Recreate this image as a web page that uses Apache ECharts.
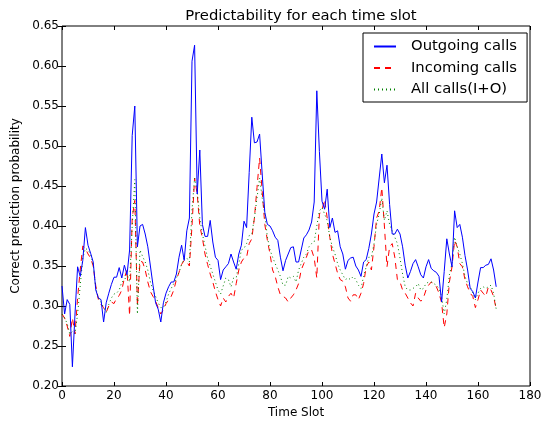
<!DOCTYPE html>
<html>
<head>
<meta charset="utf-8">
<script src="https://cdn.jsdelivr.net/npm/echarts@6/dist/echarts.min.js"></script>
<style>html,body{margin:0;padding:0;background:#fff}#c{width:548px;height:424px}</style>
</head>
<body>
<div id="c"></div>
<script>
const seriesNames = ['Outgoing calls', 'Incoming calls', 'All calls(I+O)'];
const outgoing = [0.325,0.29,0.308,0.302,0.224,0.29,0.349,0.337,0.357,0.398,
0.376,0.366,0.355,0.32,0.31,0.308,0.28,0.304,0.316,0.327,
0.336,0.336,0.348,0.335,0.351,0.339,0.37,0.513,0.55,0.374,
0.40,0.402,0.39,0.374,0.35,0.326,0.304,0.296,0.28,0.304,
0.316,0.324,0.33,0.33,0.34,0.361,0.376,0.357,0.394,0.41,
0.606,0.626,0.44,0.495,0.402,0.387,0.387,0.407,0.38,0.361,
0.357,0.333,0.345,0.349,0.353,0.365,0.355,0.346,0.365,0.376,
0.406,0.398,0.467,0.536,0.504,0.505,0.515,0.465,0.417,0.402,
0.40,0.394,0.386,0.382,0.361,0.344,0.357,0.365,0.373,0.374,
0.355,0.355,0.37,0.385,0.389,0.395,0.405,0.43,0.569,0.493,
0.431,0.421,0.446,0.398,0.41,0.392,0.394,0.374,0.365,0.346,
0.357,0.36,0.361,0.35,0.345,0.337,0.355,0.358,0.372,0.39,
0.415,0.43,0.46,0.49,0.454,0.476,0.427,0.39,0.39,0.396,
0.39,0.374,0.351,0.335,0.343,0.353,0.358,0.349,0.339,0.335,
0.349,0.358,0.347,0.344,0.342,0.337,0.305,0.343,0.384,0.365,
0.349,0.419,0.398,0.402,0.386,0.363,0.345,0.322,0.318,0.31,
0.33,0.348,0.348,0.351,0.352,0.359,0.345,0.324];
const incoming = [0.29,0.285,0.275,0.262,0.285,0.265,0.31,0.345,0.375,0.372,
0.365,0.36,0.35,0.325,0.308,0.302,0.298,0.292,0.30,0.305,
0.303,0.31,0.313,0.32,0.335,0.345,0.288,0.41,0.432,0.30,
0.356,0.355,0.345,0.33,0.318,0.312,0.306,0.298,0.29,0.295,
0.303,0.308,0.312,0.32,0.333,0.342,0.352,0.357,0.355,0.35,
0.40,0.46,0.44,0.40,0.385,0.365,0.352,0.34,0.33,0.318,
0.308,0.30,0.31,0.305,0.312,0.316,0.31,0.328,0.345,0.355,
0.36,0.361,0.378,0.384,0.41,0.448,0.485,0.443,0.402,0.382,
0.365,0.345,0.337,0.324,0.314,0.312,0.31,0.305,0.31,0.314,
0.32,0.328,0.345,0.353,0.361,0.37,0.37,0.36,0.335,0.415,
0.42,0.433,0.41,0.386,0.365,0.353,0.341,0.333,0.331,0.324,
0.31,0.306,0.314,0.314,0.308,0.316,0.328,0.349,0.355,0.345,
0.374,0.41,0.419,0.448,0.40,0.349,0.374,0.378,0.361,0.333,
0.33,0.32,0.316,0.31,0.304,0.30,0.316,0.31,0.306,0.31,
0.32,0.326,0.33,0.328,0.324,0.316,0.304,0.273,0.29,0.33,
0.349,0.382,0.374,0.353,0.349,0.333,0.324,0.316,0.312,0.298,
0.308,0.32,0.316,0.312,0.324,0.32,0.312,0.296];
const allCalls = [0.29,0.285,0.278,0.265,0.268,0.265,0.29,0.325,0.36,0.372,
0.37,0.365,0.352,0.322,0.31,0.305,0.298,0.292,0.302,0.31,
0.315,0.316,0.32,0.33,0.332,0.34,0.33,0.40,0.458,0.29,
0.37,0.362,0.355,0.345,0.33,0.32,0.312,0.304,0.298,0.298,
0.305,0.315,0.322,0.328,0.335,0.342,0.352,0.36,0.36,0.355,
0.42,0.46,0.445,0.41,0.39,0.375,0.36,0.35,0.34,0.33,
0.32,0.315,0.325,0.335,0.333,0.324,0.335,0.335,0.353,0.37,
0.372,0.378,0.388,0.39,0.41,0.435,0.46,0.435,0.415,0.386,
0.37,0.361,0.353,0.345,0.337,0.326,0.326,0.337,0.335,0.337,
0.33,0.345,0.353,0.361,0.365,0.374,0.378,0.38,0.40,0.419,
0.423,0.415,0.407,0.386,0.374,0.365,0.353,0.345,0.339,0.333,
0.335,0.333,0.337,0.333,0.326,0.322,0.337,0.349,0.361,0.361,
0.378,0.402,0.415,0.435,0.407,0.419,0.402,0.394,0.386,0.378,
0.36,0.34,0.324,0.32,0.32,0.322,0.324,0.328,0.32,0.322,
0.328,0.33,0.33,0.328,0.326,0.322,0.312,0.29,0.308,0.339,
0.353,0.386,0.374,0.365,0.353,0.337,0.328,0.324,0.316,0.308,
0.316,0.322,0.324,0.322,0.324,0.326,0.316,0.296];
const slots = outgoing.map((_, i) => i);
const xTicks = {min: 0, max: 180, interval: 20};
const yTicks = {min: 0.20, max: 0.65, interval: 0.05};

const font = 'DejaVu Sans';
const pair = arr => arr.map((v, i) => [slots[i], v]);
const chart = echarts.init(document.getElementById('c'), null, {renderer: 'canvas'});
const baseX = {type: 'value', min: xTicks.min, max: xTicks.max, interval: xTicks.interval,
  axisLine: {show: false}, splitLine: {show: false},
  axisTick: {show: true, inside: true, length: 4, lineStyle: {color: '#000'}}};
const baseY = {type: 'value', min: yTicks.min, max: yTicks.max, interval: yTicks.interval,
  axisLine: {show: false}, splitLine: {show: false},
  axisTick: {show: true, inside: true, length: 4, lineStyle: {color: '#000'}}};
chart.setOption({
  animation: false,
  backgroundColor: '#fff',
  title: {text: 'Predictability for each time slot', left: 296, top: 4, textAlign: 'center',
    textStyle: {fontFamily: font, fontSize: 14.8, fontWeight: 'normal', color: '#000'}},
  grid: {left: 62, right: 18, top: 26, bottom: 33, show: true, borderColor: '#000', borderWidth: 1, backgroundColor: 'transparent'},
  legend: {orient: 'vertical', left: 363, top: 33, data: seriesNames,
    backgroundColor: '#fff', borderColor: '#000', borderWidth: 1, borderRadius: 0,
    padding: [6, 10, 5, 10], itemGap: 6.5, itemWidth: 22, itemHeight: 15, itemTextGap: 17,
    itemStyle: {opacity: 0},
    textStyle: {fontFamily: font, fontSize: 14.8, color: '#000', padding: [0, 0, 0, 10]}},
  xAxis: [
    Object.assign({}, baseX, {position: 'bottom', name: 'Time Slot', nameLocation: 'middle', nameGap: 21,
      nameTextStyle: {fontFamily: font, fontSize: 12, color: '#000'},
      axisLabel: {fontFamily: font, fontSize: 12, color: '#000', margin: 4}}),
    Object.assign({}, baseX, {position: 'top', axisLabel: {show: false}})
  ],
  yAxis: [
    Object.assign({}, baseY, {position: 'left', name: 'Correct prediction probability', nameLocation: 'middle', nameGap: 30,
      nameTextStyle: {fontFamily: font, fontSize: 12, color: '#000'},
      axisLabel: {fontFamily: font, fontSize: 12, color: '#000', margin: 3, formatter: v => v.toFixed(2)}}),
    Object.assign({}, baseY, {position: 'right', axisLabel: {show: false}})
  ],
  series: [
    {name: seriesNames[0], type: 'line', data: pair(outgoing), symbol: 'none', z: 3,
      itemStyle: {color: '#0000ff'}, lineStyle: {color: '#0000ff', width: 1}},
    {name: seriesNames[1], type: 'line', data: pair(incoming), symbol: 'none', z: 2,
      itemStyle: {color: '#ff0000'}, lineStyle: {color: '#ff0000', width: 1, type: [6, 5]}},
    {name: seriesNames[2], type: 'line', data: pair(allCalls), symbol: 'none', z: 2,
      itemStyle: {color: '#008000'}, lineStyle: {color: '#008000', width: 1, type: [1, 3]}}
  ]
});
</script>
</body>
</html>
